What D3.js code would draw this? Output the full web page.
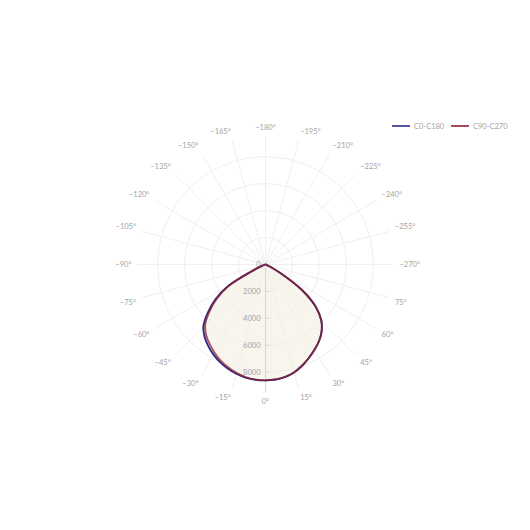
<!DOCTYPE html>
<html><head><meta charset="utf-8">
<script src="https://cdn.jsdelivr.net/npm/d3@7"></script>
<style>body{margin:0;background:#fff}text{font-family:Lato,"Open Sans",sans-serif}</style>
</head><body>
<svg id="chart" width="530" height="530"></svg>
<script>
// gamma angles (deg from nadir) for each half-plane
const gammaAngles = [0,5,10,15,20,25,30,35,40,45,50,55,60,65,70,75,80,85,90];
// C0 (right side) and C180 (left side)
const c0Values   = [8600,8570,8470,8280,7980,7640,7290,6930,6480,5850,4850,3300,1300,350,120,45,15,5,0];
const c180Values = [8600,8590,8520,8390,8210,7990,7720,7400,7030,6520,5600,4550,3200,900,250,90,30,10,0];
// C90 (right side) and C270 (left side)
const c90Values  = [8600,8570,8470,8280,7980,7640,7290,6930,6480,5850,4850,3300,1300,350,120,45,15,5,0];
const c270Values = [8600,8580,8490,8330,8120,7870,7560,7220,6850,6330,5430,4400,3100,860,240,85,28,9,0];
const seriesNames = ["C0-C180","C90-C270"];
const seriesColors = ["#2b2b90","#8e1f2b"];
const radialTicks = [0,2000,4000,6000,8000];
const radialMax = 9500;
const angularTicks = [0,15,30,45,60,75,90,105,120,135,150,165,180,195,210,225,240,255,270,285,300,315,330,345];
const angularTickLabels = ["0°","15°","30°","45°","60°","75°","−270°","−255°","−240°","−225°","−210°","−195°","−180°","−165°","−150°","−135°","−120°","−105°","−90°","−75°","−60°","−45°","−30°","−15°"];

const cx = 265.5, cy = 264.5, R = 128;
const svg = d3.select("#chart");
const r = d3.scaleLinear().domain([0, radialMax]).range([0, R]);
const rad = d => d * Math.PI / 180;
const g = svg.append("g").attr("transform", `translate(${cx},${cy})`);

const series = [
  {name: seriesNames[0], pos: c0Values, neg: c180Values, color: seriesColors[0], op: 1},
  {name: seriesNames[1], pos: c90Values, neg: c270Values, color: seriesColors[1], op: 0.75}
];
function pts(s) {
  const out = [];
  for (let i = gammaAngles.length - 1; i >= 0; i--) out.push({t: -gammaAngles[i], v: s.neg[i]});
  for (let i = 1; i < gammaAngles.length; i++) out.push({t: gammaAngles[i], v: s.pos[i]});
  return out;
}
const line = d3.lineRadial().angle(d => Math.PI - rad(d.t)).radius(d => r(d.v)).curve(d3.curveCatmullRom.alpha(0.5));

// fills
series.forEach(s => {
  g.append("path").attr("d", line(pts(s)) + "Z").attr("fill", "#efedd6").attr("fill-opacity", 0.28).attr("stroke", "none");
});

// grid rings
g.selectAll("circle.ring").data(radialTicks.filter(v => v > 0)).enter().append("circle")
  .attr("r", d => r(d)).attr("fill", "none").attr("stroke", "#efefef").attr("stroke-width", 1);
// spokes
g.selectAll("line.spoke").data(angularTicks).enter().append("line")
  .attr("x1", 0).attr("y1", 0)
  .attr("x2", d => R * Math.sin(rad(d))).attr("y2", d => R * Math.cos(rad(d)))
  .attr("stroke", "#efefef").attr("stroke-width", 1);

// angular labels
g.selectAll("text.ang").data(angularTicks).enter().append("text")
  .attr("x", d => (R + 6) * Math.sin(rad(d)))
  .attr("y", d => (R + 6) * Math.cos(rad(d)))
  .attr("text-anchor", d => { const s = Math.sin(rad(d)); return s > 0.1 ? "start" : (s < -0.1 ? "end" : "middle"); })
  .attr("dy", d => { const c = Math.cos(rad(d)); return c > 0.1 ? "0.75em" : (c < -0.1 ? "-0.1em" : "0.35em"); })
  .attr("font-size", 7.5).attr("fill", "#a3a3a3")
  .text((d, i) => angularTickLabels[i]);

// radial axis line (along 0°, downward)
g.append("line").attr("x1", 0).attr("y1", 0).attr("x2", 0).attr("y2", R)
  .attr("stroke", "#dcdbcc").attr("stroke-width", 1.2);
g.selectAll("line.rtick").data(radialTicks.filter(v => v > 0)).enter().append("line")
  .attr("x1", 0).attr("x2", 4).attr("y1", d => r(d)).attr("y2", d => r(d))
  .attr("stroke", "#dcdbcc").attr("stroke-width", 1);
g.selectAll("text.rlab").data(radialTicks).enter().append("text")
  .attr("x", -5).attr("y", d => r(d)).attr("dy", "0.35em")
  .attr("text-anchor", "end").attr("font-size", 7.5).attr("fill", "#a3a3a3")
  .text(d => d3.format("d")(d));

// curves
series.forEach(s => {
  g.append("path").attr("d", line(pts(s))).attr("fill", "none")
    .attr("stroke", s.color).attr("stroke-opacity", s.op).attr("stroke-width", 1.9).attr("stroke-linejoin", "round");
});

// legend
const legX = [392, 451];
series.forEach((s, i) => {
  const lg = svg.append("g").attr("transform", `translate(${legX[i]},126)`);
  lg.append("line").attr("x1", 0).attr("x2", 18).attr("y1", 0).attr("y2", 0)
    .attr("stroke", s.color).attr("stroke-width", 1.6);
  lg.append("text").attr("x", 22).attr("y", 0).attr("dy", "0.35em")
    .attr("font-size", 7.5).attr("fill", "#a3a3a3").text(s.name);
});
</script>
</body></html>
